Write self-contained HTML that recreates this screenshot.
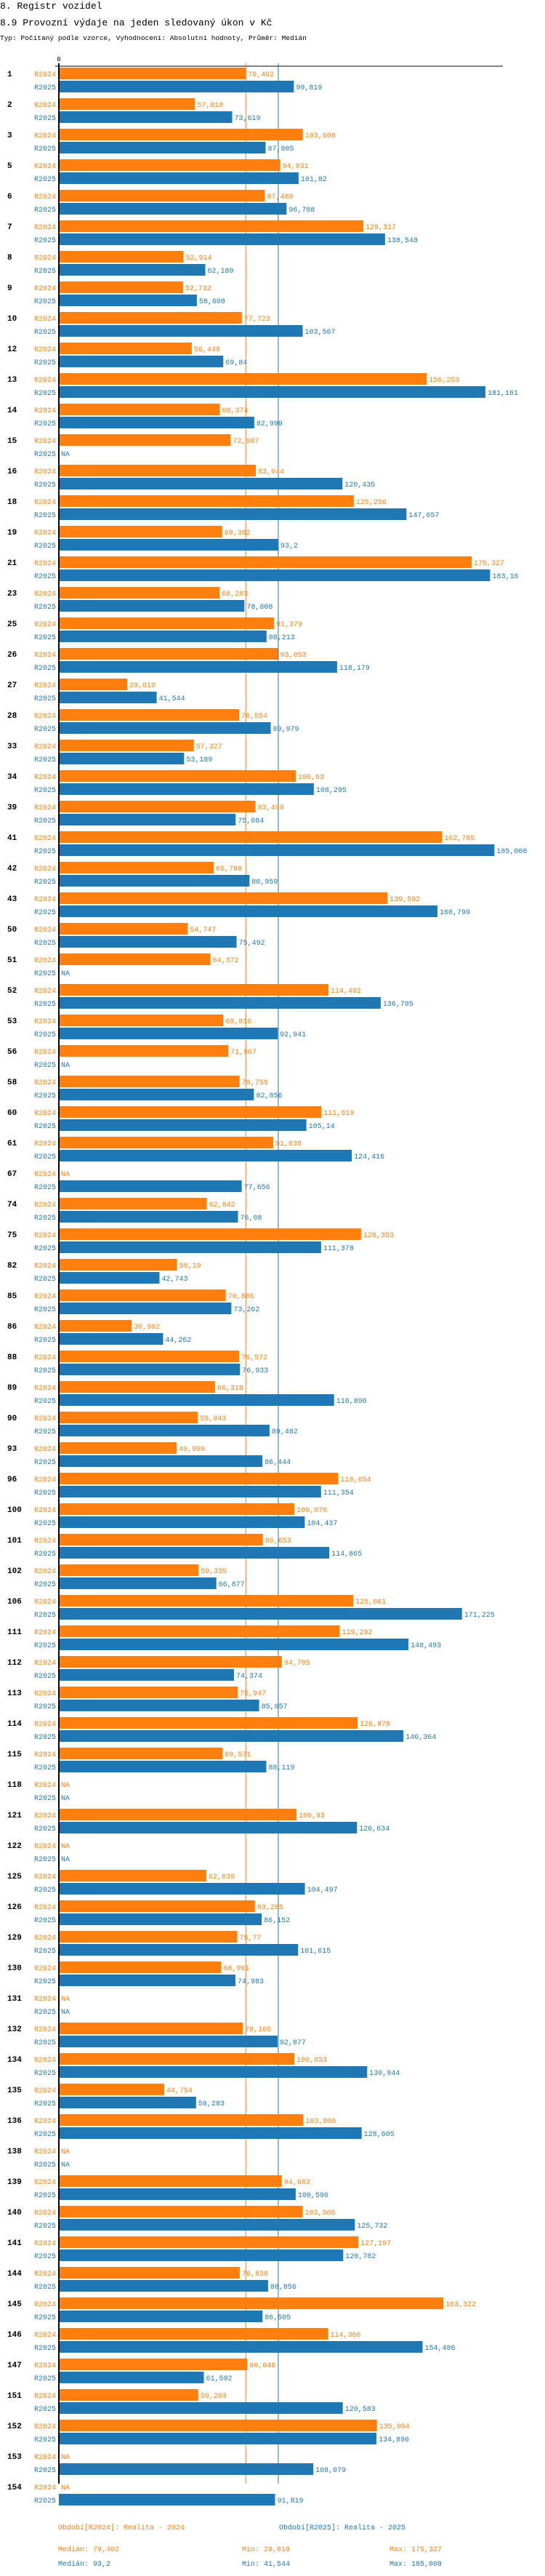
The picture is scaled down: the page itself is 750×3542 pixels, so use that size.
<!DOCTYPE html>
<html><head><meta charset="utf-8">
<style>
body{margin:0;background:#fff;width:750px;height:3542px;overflow:hidden;font-family:"Liberation Mono",monospace;}
svg{display:block}
</style></head>
<body>
<svg id="chart" width="750" height="3542" xmlns="http://www.w3.org/2000/svg" font-family="Liberation Mono, monospace">
<text x="0" y="12" font-size="13" fill="#000">8. Registr vozidel</text>
<text x="0" y="35" font-size="13" fill="#000">8.9 Provozní výdaje na jeden sledovaný úkon v Kč</text>
<text x="0" y="55" font-size="9.5" fill="#000">Typ: Počítaný podle vzorce, Vyhodnocení: Absolutní hodnoty, Průměr: Medián</text>
<g id="marks"></g>
</svg>
<script>
const categories = ["1","2","3","5","6","7","8","9","10","12","13","14","15","16","18","19","21","23","25","26","27","28","33","34","39","41","42","43","50","51","52","53","56","58","60","61","67","74","75","82","85","86","88","89","90","93","96","100","101","102","106","111","112","113","114","115","118","121","122","125","126","129","130","131","132","134","135","136","138","139","140","141","144","145","146","147","151","152","153","154"];
const values2024 = [79.402,57.818,103.608,94.031,87.489,129.317,52.914,52.732,77.723,56.449,156.253,68.374,72.987,83.644,125.256,69.382,175.327,68.283,91.379,93.053,29.019,76.554,57.327,100.63,83.499,162.785,65.788,139.592,54.747,64.372,114.492,69.816,71.967,76.759,111.519,91.038,null,62.842,128.353,50.19,70.886,30.902,76.572,66.318,59.043,49.999,118.654,100.076,86.653,59.335,125.061,119.292,94.705,75.947,126.878,69.571,null,100.93,null,62.639,83.285,75.77,68.961,null,78.165,100.033,44.754,103.806,null,94.683,103.565,127.197,76.838,163.322,114.366,80.048,59.203,135.094,null,null];
const values2025 = [99.819,73.619,87.805,101.82,96.708,138.548,62.189,58.608,103.567,69.84,181.161,82.999,null,120.435,147.657,93.2,183.16,78.808,88.213,118.179,41.544,89.979,53.189,108.295,75.084,185.008,80.959,160.799,75.492,null,136.705,92.941,null,82.856,105.14,124.416,77.656,76.08,111.378,42.743,73.262,44.262,76.933,116.896,89.482,86.444,111.354,104.437,114.865,66.877,171.225,148.493,74.374,85.057,146.364,88.119,null,126.634,null,104.497,86.152,101.615,74.983,null,92.877,130.944,58.283,128.605,null,100.596,125.732,120.782,88.856,86.505,154.486,61.592,120.583,134.896,108.079,91.819];
const medians = [79.402, 93.2];
const seriesNames = ["R2024","R2025"];
const footerTexts = [["Období[R2024]: Realita - 2024","Medián: 79,402","Min: 29,019","Max: 175,327"],["Období[R2025]: Realita - 2025","Medián: 93,2","Min: 41,544","Max: 185,008"]];

const colors=["#ff7f0e","#1f77b4"];
const NS="http://www.w3.org/2000/svg";
const g=document.getElementById("marks");
const X0=81, K=3.24, TOP=93, PITCH=42, BH=16;
const xs=v=>X0+v*K;
const ys=(i,s)=>TOP+i*PITCH+s*18;
const fmt=v=>String(+v.toFixed(3)).replace(".",",");
function el(tag,attrs,text){const e=document.createElementNS(NS,tag);for(const k in attrs)e.setAttribute(k,attrs[k]);if(text!==undefined)e.textContent=text;g.appendChild(e);return e;}
const bottom=TOP+categories.length*PITCH-40+2;

let t=el("text",{x:X0,y:84,"font-size":9,"text-anchor":"middle",fill:"#000"},"0");


let ax=el("line",{x1:76,y1:91,x2:692,y2:91,stroke:"#000","stroke-width":1});



medians.forEach((m,s)=>{
  const l=el("line",{x1:xs(m),y1:87,x2:xs(m),y2:bottom,stroke:colors[s],"stroke-width":1});
  
  
});

categories.forEach((c,i)=>{
  const n=el("text",{x:10,y:ys(i,0)+12,"font-size":11,"font-weight":"bold",fill:"#000"},c);
  
  
  [values2024,values2025].forEach((arr,s)=>{
    const v=arr[i], y=ys(i,s);
    const lb=el("text",{x:77,y:y+12,"font-size":10,"text-anchor":"end",fill:colors[s]},seriesNames[s]);
    
    
    if(v===null){
      const na=el("text",{x:84,y:y+12,"font-size":10,fill:colors[s]},"NA");
      
      
      return;
    }
    const r=el("rect",{x:X0,y:y,width:xs(v)-X0,height:BH,fill:colors[s]});
    
    
    const vt=el("text",{x:xs(v)+3,y:y+12,"font-size":10,fill:colors[s]},fmt(v));
    
    
  });
});
let ya=el("line",{x1:X0,y1:87,x2:X0,y2:bottom,stroke:"#000","stroke-width":2});



const fx=[[80,384],[80,333,536]];
footerTexts.forEach((row,s)=>{
  const lg=el("text",{x:s===0?80:384,y:3478,"font-size":10,fill:colors[s]},row[0]);
  
  
  [80,333,536].forEach((x,j)=>{
    const st=el("text",{x:x,y:3508+s*20,"font-size":10,fill:colors[s]},row[j+1]);
    
    
  });
});
</script>
</body></html>
